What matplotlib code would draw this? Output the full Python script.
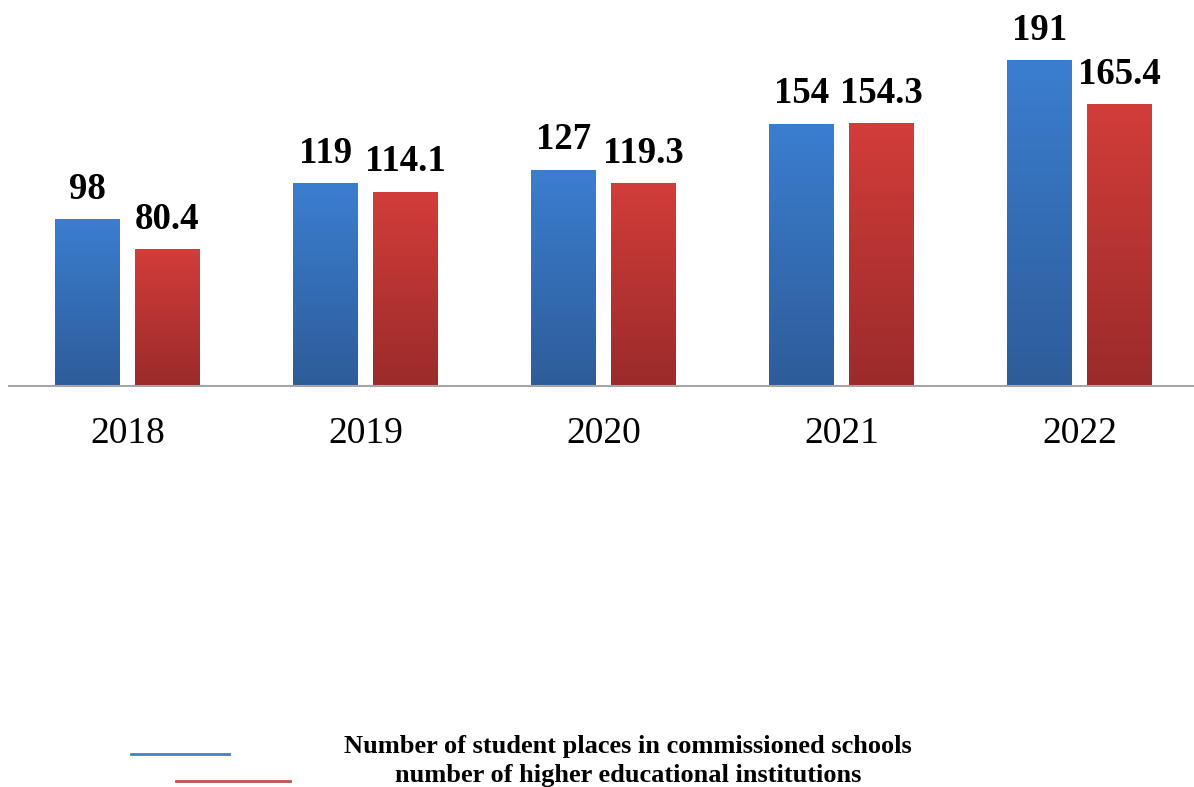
import numpy as np
import matplotlib
matplotlib.use("Agg")
import matplotlib.pyplot as plt
from matplotlib.colors import LinearSegmentedColormap
from matplotlib.lines import Line2D

years = ["2018", "2019", "2020", "2021", "2022"]
student_places = [98, 119, 127, 154, 191]
higher_institutions = [80.4, 114.1, 119.3, 154.3, 165.4]
series_names = ["Number of student places in commissioned schools",
                "number of higher educational institutions"]

plt.rcParams['font.family'] = ['Liberation Serif', 'DejaVu Serif']

W, H = 1194, 787
fig = plt.figure(figsize=(W / 100, H / 100), dpi=100)
ax = fig.add_axes([8.5 / W, 1 - 386 / H, 1 - 8.5 / W, 386 / H])

x = np.arange(len(years))
width = 0.273
off = 0.167

blue_cmap = LinearSegmentedColormap.from_list("b", ["#2E5C99", "#3B7ED0"])
red_cmap = LinearSegmentedColormap.from_list("r", ["#9A2B2A", "#D23D3A"])

grad = np.linspace(0, 1, 256).reshape(-1, 1)

def gradient_bars(xpos, vals, cmap):
    bars = ax.bar(xpos, vals, width, color="none", edgecolor="none", zorder=2)
    for b in bars:
        x0, y0 = b.get_x(), b.get_y()
        w, h = b.get_width(), b.get_height()
        im = ax.imshow(grad, cmap=cmap, aspect="auto", origin="lower",
                       extent=[x0, x0 + w, y0, y0 + h], zorder=2)
        im.set_clip_path(b)
    return bars

b1 = gradient_bars(x - off, student_places, blue_cmap)
b2 = gradient_bars(x + off, higher_institutions, red_cmap)

for xs, vals in ((x - off, student_places), (x + off, higher_institutions)):
    for xi, v in zip(xs, vals):
        ax.annotate(f"{v:g}", (xi, v), xytext=(0, 14.5), textcoords="offset points",
                    ha="center", va="baseline", fontsize=26.5, fontweight="bold",
                    color="black")

ax.set_xlim(-0.5, 4.48)
ax.set_ylim(0, 226.5)
for s in ("top", "right", "left"):
    ax.spines[s].set_visible(False)
ax.spines["bottom"].set_color("#A6A6A6")
ax.spines["bottom"].set_linewidth(1.5)
ax.set_yticks([])
ax.set_xticks(x)
ax.set_xticklabels(years, fontsize=27)
ax.tick_params(axis="x", length=0, pad=22)

# legend (manual, figure coordinates)
fig.add_artist(Line2D([131 / W, 229 / W], [1 - 754 / H, 1 - 754 / H],
                      color="#4A7EC8", lw=2, transform=fig.transFigure))
fig.add_artist(Line2D([176 / W, 290 / W], [1 - 781 / H, 1 - 781 / H],
                      color="#C8504D", lw=2, transform=fig.transFigure))
fig.text(628 / W, 1 - 753 / H, series_names[0], ha="center", va="baseline",
         fontsize=19, fontweight="bold")
fig.text(628 / W, 1 - 782 / H, series_names[1], ha="center", va="baseline",
         fontsize=19, fontweight="bold")

fig.savefig("out.png", dpi=100)
